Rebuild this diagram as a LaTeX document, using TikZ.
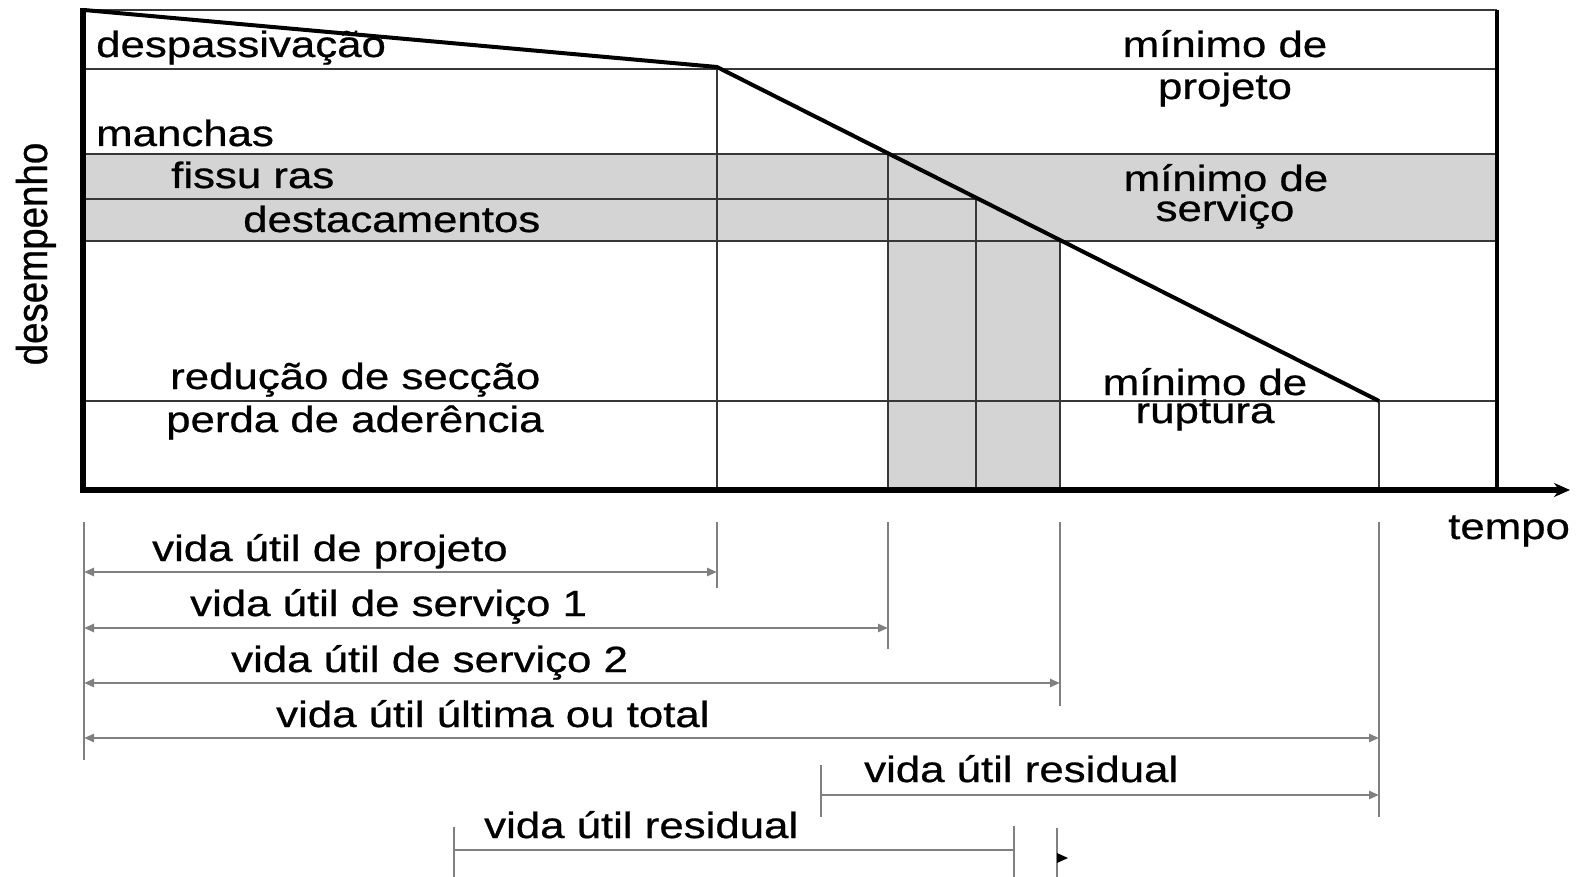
\documentclass[tikz,border=0pt]{standalone}
\usepackage{fontspec}
\setmainfont[FakeStretch=1.2,FakeBold=0.7]{Liberation Sans}
\newfontfamily\plainsans[FakeBold=0.7]{Liberation Sans}
\usetikzlibrary{arrows.meta}
\definecolor{bandgray}{RGB}{212,212,212}
\definecolor{framegray}{RGB}{55,55,55}
\definecolor{dimgray}{RGB}{128,128,128}
\begin{document}
\begin{tikzpicture}[x=1pt,y=-1pt,
  lbl/.style={anchor=base west, inner sep=0pt, font=\fontsize{36.5}{40}\selectfont, text=black},
  lblc/.style={anchor=base, inner sep=0pt, font=\fontsize{36.5}{40}\selectfont, text=black},
  hline/.style={draw=framegray, line width=2.4pt},
  vline/.style={draw=framegray, line width=2.4pt},
  dimline/.style={draw=dimgray, line width=2.6pt},
  dimtip/.tip={Triangle[length=10pt,width=8pt]},
  tickline/.style={draw=dimgray, line width=1.8pt},
]
\useasboundingbox (0,0) rectangle (1580,877);

% grey areas
\fill[bandgray] (83,154) rectangle (1497,241);
\fill[bandgray] (888,241) rectangle (1060,490);

% horizontal level lines
\draw[hline] (83,10) -- (1497,10);
\draw[hline] (83,69) -- (1497,69);
\draw[hline] (83,154) -- (1497,154);
\draw[hline] (83,199) -- (976,199);
\draw[hline] (83,241) -- (1497,241);
\draw[hline] (83,401) -- (1497,401);

% vertical lines
\draw[vline] (717,69) -- (717,490);
\draw[vline] (888,154) -- (888,490);
\draw[vline] (976,199) -- (976,490);
\draw[vline] (1060,241) -- (1060,490);
\draw[vline] (1379,401) -- (1379,490);
\draw[black, line width=3.5pt] (1497,10) -- (1497,490);

% frame left and time axis
\draw[black, line width=5.5pt] (83,8) -- (83,492);
\draw[black, line width=6pt, -{Stealth[length=16pt,width=14pt]}] (80,490) -- (1570,490);

% performance curve
\draw[black, line width=4pt, line join=round] (84,10) -- (717,67) -- (1379,401);

% labels inside the chart
\node[lbl] (despass) at (96,57) {despassivação};
\node[lbl] (manchas) at (96,146) {manchas};
\node[lbl] (fissuras) at (171,188) {fissu ras};
\node[lbl] (destac) at (243,232) {destacamentos};
\node[lbl] (reducao) at (170,389) {redução de secção};
\node[lbl] (perda) at (166,432) {perda de aderência};
\node[lblc] (minproj1) at (1225,57) {mínimo de};
\node[lblc] (minproj2) at (1225,99) {projeto};
\node[lblc] (minserv1) at (1226,191) {mínimo de};
\node[lblc] (minserv2) at (1225,221) {serviço};
\node[lblc] (minrup1) at (1205,395) {mínimo de};
\node[lblc] (minrup2) at (1205,423) {ruptura};
\node[lbl] (tempo) at (1448,539) {tempo};
\node[rotate=90, anchor=base, inner sep=0pt, font=\plainsans\fontsize{38.5}{40}\selectfont, text=black] (desemp) at (47,254) {\scalebox{1}[1.12]{desempenho}};

% coordinates for the life spans
\coordinate (a0) at (84,572);   \coordinate (a1) at (717,572);
\coordinate (b0) at (84,628);   \coordinate (b1) at (888,628);
\coordinate (c0) at (84,683);   \coordinate (c1) at (1060,683);
\coordinate (d0) at (84,738);   \coordinate (d1) at (1379,738);
\coordinate (e0) at (821,795);  \coordinate (e1) at (1379,795);
\coordinate (f0) at (454,850);  \coordinate (f1) at (1014,850);

% ticks
\draw[tickline] (84,522) -- (84,760);
\draw[tickline] (717,522) -- (717,588);
\draw[tickline] (888,522) -- (888,649);
\draw[tickline] (1060,522) -- (1060,706);
\draw[tickline] (1379,522) -- (1379,817);
\draw[tickline] (821,765) -- (821,817);
\draw[tickline] (454,827) -- (454,877);
\draw[tickline] (1014,826) -- (1014,877);
\draw[tickline] (1057,828) -- (1057,877);

% span arrows
\draw[dimline, dimtip-dimtip] (a0) -- (a1);
\draw[dimline, dimtip-dimtip] (b0) -- (b1);
\draw[dimline, dimtip-dimtip] (c0) -- (c1);
\draw[dimline, dimtip-dimtip] (d0) -- (d1);
\draw[dimline, -dimtip] (e0) -- (e1);
\draw[dimline] (f0) -- (f1);
\fill[black] (1057,853) -- (1068,858) -- (1057,863) -- cycle;

% span labels
\node[lbl] (vproj) at (152,561) {vida útil de projeto};
\node[lbl] (vserv1) at (190,616) {vida útil de serviço 1};
\node[lbl] (vserv2) at (231,672) {vida útil de serviço 2};
\node[lbl] (vtotal) at (276,727) {vida útil última ou total};
\node[lbl] (vres1) at (864,782) {vida útil residual};
\node[lbl] (vres2) at (484,838) {vida útil residual};
\end{tikzpicture}
\end{document}
